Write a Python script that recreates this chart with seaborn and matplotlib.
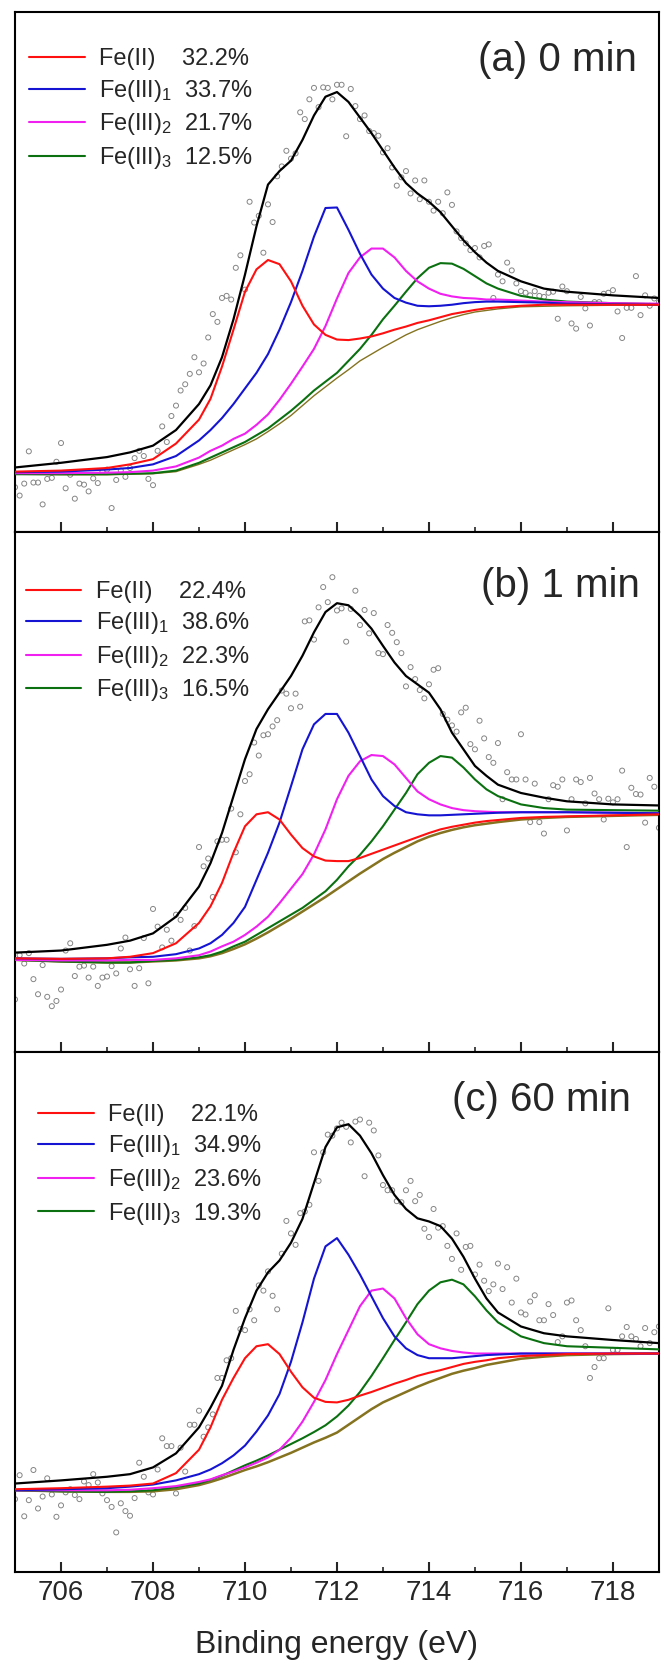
import numpy as np
import matplotlib
matplotlib.use("Agg")
import matplotlib.pyplot as plt
import seaborn as sns

# binding energy grid (eV) on which the fitted curves were read
energy = [705, 706, 707, 707.5, 708, 708.5, 709, 709.25, 709.5, 709.75,
          710, 710.25, 710.5, 710.75, 711, 711.25, 711.5, 711.75, 712, 712.25,
          712.5, 712.75, 713, 713.25, 713.5, 713.75, 714, 714.25, 714.5, 714.75,
          715, 715.25, 715.5, 716, 716.5, 717, 718, 719]
# raw data points every 0.1 eV
scatter_energy = np.round(np.arange(705.0, 719.05, 0.1), 1)

panel_titles = ["(a) 0 min", "(b) 1 min", "(c) 60 min"]
component_names = ["Fe(II)    ", r"Fe(III)$\mathregular{_1}$  ",
                   r"Fe(III)$\mathregular{_2}$  ", r"Fe(III)$\mathregular{_3}$  "]
a_percent = ["32.2%", "33.7%", "21.7%", "12.5%"]
b_percent = ["22.4%", "38.6%", "22.3%", "16.5%"]
c_percent = ["22.1%", "34.9%", "23.6%", "19.3%"]

# ---- (a) 0 min ----
a_envelope = [12.4, 13.3, 14.4, 15.3, 16.6, 19.6, 24.6, 28.2, 33.6, 40.9,
              49.5, 58.8, 66.8, 69.4, 71.4, 75.4, 80.1, 83.7, 84.6, 82.7,
              79.7, 76.7, 73.4, 70.1, 67.1, 65.1, 63.5, 61.5, 58.8, 56.1,
              53.8, 51.8, 50.2, 48.2, 46.8, 46.2, 45.5, 45.0]
a_fe2 = [11.6, 11.8, 12.3, 13.0, 14.0, 17.0, 21.6, 25.6, 31.8, 38.9,
         46.2, 50.5, 52.3, 51.5, 48.2, 43.5, 39.9, 37.9, 37.0, 36.9,
         37.2, 37.6, 38.2, 38.9, 39.5, 40.2, 40.7, 41.3, 41.9, 42.3,
         42.7, 43.0, 43.2, 43.5, 43.7, 43.7, 43.7, 43.7]
a_fe3_1 = [11.5, 11.6, 12.0, 12.3, 13.0, 14.6, 17.6, 19.6, 21.9, 24.6,
           27.6, 30.6, 34.2, 38.9, 44.2, 50.2, 56.8, 62.3, 62.4, 58.1,
           53.5, 49.5, 46.8, 45.0, 44.1, 43.5, 43.4, 43.5, 43.7, 44.0,
           44.2, 44.3, 44.3, 44.2, 44.1, 43.9, 43.8, 43.7]
a_fe3_2 = [11.3, 11.3, 11.4, 11.5, 11.8, 12.6, 14.3, 15.6, 16.6, 17.9,
           18.9, 20.6, 22.6, 25.4, 28.5, 31.8, 35.2, 39.6, 44.9, 49.8,
           52.8, 54.5, 54.5, 52.8, 50.2, 48.2, 46.8, 45.8, 45.3, 45.0,
           44.9, 44.7, 44.7, 44.5, 44.3, 44.2, 44.0, 43.9]
a_fe3_3 = [11.1, 11.1, 11.1, 11.2, 11.3, 11.8, 13.3, 14.3, 15.3, 16.3,
           17.3, 18.6, 19.9, 21.6, 23.3, 25.2, 27.2, 28.9, 30.6, 32.9,
           35.2, 37.9, 40.9, 43.5, 46.2, 48.8, 50.8, 51.7, 51.6, 50.6,
           49.2, 47.8, 46.8, 45.4, 44.7, 44.3, 44.0, 43.8]
a_background = [11.1, 11.0, 11.0, 11.1, 11.2, 11.6, 13.0, 13.8, 14.8, 15.8,
                16.8, 17.9, 19.3, 20.8, 22.4, 24.3, 26.2, 27.9, 29.6, 31.2,
                32.9, 34.2, 35.5, 36.7, 37.9, 38.9, 39.7, 40.5, 41.2, 41.8,
                42.3, 42.6, 42.9, 43.3, 43.4, 43.5, 43.6, 43.6]
a_points = [8.6, 7.0, 9.3, 15.5, 9.5, 9.5, 5.3, 10.2, 10.4, 13.5,
            17.1, 8.4, 11.0, 6.4, 9.3, 9.1, 7.8, 10.3, 9.4, 11.6,
            12.0, 4.6, 10.0, 11.8, 10.6, 12.3, 14.2, 15.6, 14.6, 10.2,
            9.0, 15.6, 20.3, 17.3, 22.3, 24.3, 27.2, 28.4, 30.4, 33.6,
            30.7, 32.4, 37.4, 41.9, 40.4, 45.0, 45.4, 44.7, 50.8, 53.2,
            46.6, 63.5, 59.5, 60.8, 53.7, 63.0, 59.6, 68.4, 70.3, 73.3,
            71.8, 72.8, 80.7, 79.4, 83.2, 85.4, 81.7, 85.5, 85.4, 83.2,
            86.0, 86.0, 76.1, 85.2, 81.9, 79.4, 80.1, 77.1, 76.7, 76.2,
            73.0, 73.8, 70.1, 66.6, 68.2, 69.4, 65.1, 67.6, 64.0, 67.6,
            63.5, 61.8, 63.5, 61.3, 65.3, 62.9, 57.8, 56.5, 55.5, 54.2,
            54.6, 52.8, 55.0, 55.3, 45.0, 49.5, 48.2, 51.8, 50.3, 47.8,
            46.3, 46.0, 45.5, 46.3, 45.4, 45.2, 46.0, 46.2, 41.0, 47.2,
            46.3, 40.1, 39.1, 45.2, 43.0, 39.7, 44.2, 44.2, 45.8, 46.0,
            46.5, 42.4, 37.3, 43.1, 43.1, 49.2, 41.7, 45.5, 43.5, 44.9,
            44.2]

# ---- (b) 1 min ----
b_envelope = [19.1, 19.5, 20.6, 21.4, 22.8, 26.0, 31.8, 36.3, 42.1, 49.2,
              56.3, 62.1, 65.9, 69.1, 72.3, 76.2, 80.7, 84.6, 86.3, 85.9,
              83.9, 81.4, 78.1, 74.9, 72.3, 70.7, 69.1, 65.9, 61.4, 58.2,
              55.0, 53.1, 51.4, 49.8, 48.9, 48.2, 47.6, 47.4]
b_fe2 = [18.0, 17.9, 18.0, 18.3, 19.0, 20.9, 24.8, 28.0, 32.5, 38.3,
         43.4, 45.7, 46.1, 44.7, 41.8, 39.2, 37.6, 36.8, 36.7, 36.7,
         37.3, 38.1, 38.9, 39.7, 40.5, 41.3, 42.1, 42.8, 43.3, 43.7,
         44.1, 44.4, 44.6, 45.0, 45.2, 45.3, 45.5, 45.7]
b_fe3_1 = [18.0, 17.9, 18.0, 18.2, 18.3, 18.8, 19.9, 20.9, 22.5, 24.8,
           27.9, 33.1, 38.3, 44.1, 51.1, 58.2, 63.0, 65.0, 65.0, 61.4,
           56.9, 52.4, 49.2, 47.3, 46.1, 45.7, 45.5, 45.5, 45.6, 45.7,
           45.8, 45.9, 46.0, 46.1, 46.1, 46.1, 46.0, 45.9]
b_fe3_2 = [17.7, 17.6, 17.6, 17.7, 17.7, 18.0, 18.6, 19.3, 20.3, 21.2,
           22.5, 24.1, 26.0, 28.6, 31.4, 34.2, 38.0, 42.8, 48.6, 53.1,
           55.9, 57.1, 56.9, 55.3, 52.7, 50.1, 48.6, 47.6, 46.9, 46.5,
           46.3, 46.2, 46.1, 46.1, 46.1, 46.1, 46.0, 45.9]
b_fe3_3 = [17.7, 17.4, 17.2, 17.2, 17.5, 17.7, 18.2, 18.6, 19.3, 20.3,
           21.2, 22.5, 23.8, 25.1, 26.4, 27.7, 29.3, 30.9, 33.1, 35.7,
           37.9, 40.5, 43.4, 46.6, 49.8, 53.4, 55.6, 56.9, 56.6, 54.7,
           52.4, 50.5, 49.2, 47.6, 46.9, 46.6, 46.5, 46.4]
b_background = [17.7, 17.4, 17.2, 17.2, 17.4, 17.6, 18.0, 18.4, 19.0, 19.8,
                20.7, 21.8, 23.0, 24.3, 25.6, 27.0, 28.4, 29.8, 31.3, 32.8,
                34.3, 35.7, 37.1, 38.3, 39.4, 40.5, 41.4, 42.1, 42.7, 43.2,
                43.6, 43.9, 44.2, 44.7, 45.0, 45.2, 45.4, 45.6]
b_points = [10.1, 18.6, 17.0, 19.0, 14.0, 11.1, 16.7, 10.6, 8.8, 9.8,
            12.0, 19.5, 20.9, 14.6, 16.4, 16.6, 14.3, 16.4, 12.7, 14.3,
            14.5, 16.5, 15.1, 19.9, 22.0, 15.9, 12.7, 16.1, 21.9, 13.2,
            27.5, 24.1, 20.1, 23.5, 21.4, 26.4, 25.4, 27.7, 19.5, 24.2,
            39.4, 35.7, 37.2, 29.8, 40.5, 40.8, 40.8, 46.8, 38.4, 45.7,
            52.1, 53.4, 59.5, 57.0, 60.9, 61.1, 62.6, 63.8, 69.5, 68.9,
            66.1, 68.9, 66.4, 82.8, 83.0, 79.3, 85.5, 89.4, 86.5, 91.3,
            84.9, 85.3, 78.9, 85.2, 88.7, 82.1, 85.0, 80.5, 84.4, 76.7,
            76.5, 82.1, 80.6, 78.8, 76.7, 70.3, 74.0, 71.7, 69.6, 68.0,
            70.7, 73.5, 73.8, 65.0, 63.9, 62.8, 61.6, 65.3, 66.2, 59.2,
            58.2, 63.7, 60.3, 56.7, 55.6, 59.4, 48.6, 53.8, 52.4, 52.4,
            61.1, 52.4, 44.2, 51.6, 44.2, 42.0, 48.6, 51.3, 51.0, 52.4,
            42.6, 48.6, 52.4, 51.9, 47.8, 52.7, 49.7, 48.6, 44.7, 48.7,
            48.0, 48.6, 54.1, 39.4, 50.8, 49.6, 49.5, 44.1, 52.7, 51.0,
            43.1]

# ---- (c) 60 min ----
c_envelope = [17.0, 17.6, 18.3, 18.8, 20.1, 22.8, 27.8, 31.6, 35.8, 42.7,
              48.8, 54.1, 57.6, 59.9, 63.3, 67.9, 74.8, 81.7, 85.5, 86.1,
              83.9, 80.5, 76.3, 72.5, 69.8, 68.0, 67.4, 66.5, 64.1, 60.6,
              56.4, 52.6, 49.9, 47.2, 45.9, 45.3, 44.6, 44.0]
c_fe2 = [15.9, 16.1, 16.4, 16.6, 17.0, 19.0, 23.5, 27.8, 33.1, 37.3,
         41.1, 43.4, 43.8, 41.9, 38.5, 35.5, 33.5, 32.7, 32.6, 33.1,
         33.9, 34.6, 35.4, 36.2, 36.9, 37.7, 38.3, 38.8, 39.4, 40.0,
         40.4, 40.7, 41.1, 41.5, 41.7, 41.9, 42.0, 42.0]
c_fe3_1 = [15.7, 15.9, 16.1, 16.4, 16.8, 17.6, 18.8, 19.7, 20.9, 22.4,
           24.3, 27.0, 30.1, 34.2, 40.4, 48.0, 56.4, 62.6, 64.2, 61.0,
           57.2, 53.0, 48.8, 45.3, 43.0, 41.7, 41.1, 41.1, 41.1, 41.3,
           41.5, 41.7, 41.8, 42.0, 42.0, 42.0, 42.0, 42.0]
c_fe3_2 = [15.7, 15.7, 15.7, 15.8, 16.1, 16.5, 17.3, 17.8, 18.6, 19.3,
           20.1, 21.0, 22.0, 23.5, 25.8, 28.9, 32.7, 36.9, 41.9, 46.5,
           51.1, 54.1, 54.5, 52.6, 48.8, 45.7, 43.8, 43.0, 42.5, 42.2,
           42.0, 42.0, 42.0, 42.0, 42.0, 42.0, 42.0, 42.0]
c_fe3_3 = [15.7, 15.5, 15.4, 15.5, 15.7, 16.3, 17.0, 17.7, 18.5, 19.5,
           20.5, 21.4, 22.4, 23.5, 24.6, 25.7, 26.9, 28.2, 29.9, 32.0,
           34.6, 37.7, 41.1, 44.6, 48.0, 51.5, 54.1, 55.7, 56.2, 55.3,
           53.0, 50.3, 48.0, 45.3, 44.0, 43.4, 43.1, 42.8]
c_background = [15.7, 15.5, 15.4, 15.4, 15.5, 15.9, 16.7, 17.3, 18.0, 18.8,
                19.6, 20.3, 21.1, 22.0, 22.9, 23.9, 24.9, 25.8, 26.8, 28.3,
                29.8, 31.3, 32.6, 33.6, 34.6, 35.6, 36.5, 37.3, 38.1, 38.7,
                39.2, 39.8, 40.2, 41.0, 41.4, 41.7, 41.9, 42.0]
c_points = [14.0, 18.6, 10.7, 13.8, 19.6, 12.2, 14.5, 18.0, 14.9, 10.6,
            12.8, 15.3, 15.9, 14.8, 14.0, 17.4, 16.7, 18.8, 17.2, 15.1,
            13.8, 12.5, 7.6, 13.2, 11.7, 10.8, 14.2, 21.0, 18.3, 15.3,
            14.9, 19.7, 25.7, 24.2, 24.2, 15.1, 23.9, 19.3, 28.3, 28.3,
            31.0, 26.0, 27.8, 30.3, 37.3, 37.3, 40.7, 41.1, 50.2, 46.7,
            46.5, 50.5, 48.4, 55.1, 54.1, 57.8, 53.1, 50.5, 61.2, 67.5,
            65.1, 62.9, 69.0, 69.3, 70.6, 80.7, 75.2, 80.7, 84.1, 83.9,
            85.3, 86.4, 85.6, 82.6, 86.6, 87.0, 76.1, 86.4, 84.9, 80.1,
            74.4, 73.4, 73.4, 71.3, 71.1, 73.4, 75.2, 71.3, 72.5, 66.0,
            64.4, 69.8, 66.2, 66.5, 62.7, 60.2, 65.1, 58.1, 62.5, 62.7,
            57.2, 59.1, 56.0, 54.0, 55.3, 59.3, 54.4, 58.6, 51.8, 56.4,
            49.9, 49.5, 52.0, 53.2, 48.4, 48.4, 51.5, 49.4, 44.2, 45.3,
            51.8, 52.2, 48.4, 46.5, 43.4, 37.3, 39.4, 41.1, 41.1, 50.7,
            42.7, 42.7, 45.3, 47.1, 45.3, 44.8, 43.4, 46.9, 44.0, 46.1,
            47.2]

panels = [
    (a_points, a_background, [a_fe2, a_fe3_1, a_fe3_2, a_fe3_3], a_envelope, a_percent),
    (b_points, b_background, [b_fe2, b_fe3_1, b_fe3_2, b_fe3_3], b_envelope, b_percent),
    (c_points, c_background, [c_fe2, c_fe3_1, c_fe3_2, c_fe3_3], c_envelope, c_percent),
]
component_colors = ["#ff1010", "#1414d2", "#f020f0", "#0a7010"]
background_widths = [1.0, 1.8, 1.8]
legend_anchor = [(0.022, 0.930), (0.017, 0.906), (0.036, 0.900)]
title_pos = [(0.966, 0.907), (0.970, 0.896), (0.957, 0.908)]

sns.set_theme(style="white")
plt.rcParams["font.family"] = ["Liberation Sans", "DejaVu Sans"]
plt.rcParams["mathtext.fontset"] = "custom"
plt.rcParams["mathtext.rm"] = "Liberation Sans"

fig, axes = plt.subplots(3, 1, figsize=(6.71, 16.62), dpi=100, sharex=True)
fig.subplots_adjust(left=0.0224, right=0.982, top=0.9928, bottom=0.0542, hspace=0)

for i, (ax, (points, background, comps, envelope, percents)) in enumerate(zip(axes, panels)):
    sns.scatterplot(x=scatter_energy, y=points, ax=ax, marker="o", s=13,
                    facecolors="none", edgecolor="#858585", linewidth=0.7,
                    legend=False, zorder=1)
    sns.lineplot(x=energy, y=background, ax=ax, color="#857320",
                 lw=background_widths[i], estimator=None, sort=False, zorder=2)
    handles = []
    for comp, color in zip(comps[::-1], component_colors[::-1]):
        sns.lineplot(x=energy, y=comp, ax=ax, color=color, lw=1.5,
                     estimator=None, sort=False, zorder=3)
        ax.lines[-1].set_solid_joinstyle("round")
        handles.append(ax.lines[-1])
    handles = handles[::-1]
    sns.lineplot(x=energy, y=envelope, ax=ax, color="black", lw=1.6,
                 estimator=None, sort=False, zorder=4)
    ax.lines[-1].set_solid_joinstyle("round")

    labels = [name + pct for name, pct in zip(component_names, percents)]
    ax.legend(handles, labels, loc="upper left", bbox_to_anchor=legend_anchor[i],
              frameon=False, fontsize=17, handlelength=2.35, handletextpad=0.6,
              labelspacing=0.32, borderpad=0, borderaxespad=0)
    ax.text(title_pos[i][0], title_pos[i][1], panel_titles[i], transform=ax.transAxes,
            ha="right", va="center", fontsize=29)

    ax.set_xlim(705, 719)
    ax.set_ylim(0, 100)
    ax.set_yticks([])
    ax.set_ylabel("")
    ax.set_xticks([706, 708, 710, 712, 714, 716, 718])
    ax.set_xticks([707, 709, 711, 713, 715, 717], minor=True)
    ax.tick_params(axis="x", which="major", direction="in", length=7, width=1.5,
                   labelsize=20, pad=6, top=False, bottom=True)
    ax.tick_params(axis="x", which="minor", direction="in", length=3.5, width=1.2,
                   top=False, bottom=True)
    for spine in ax.spines.values():
        spine.set_visible(True)
        spine.set_color("black")
        spine.set_linewidth(1.5)

axes[2].set_xlabel("Binding energy (eV)", fontsize=23, labelpad=17)

fig.savefig("out.png", dpi=100)
